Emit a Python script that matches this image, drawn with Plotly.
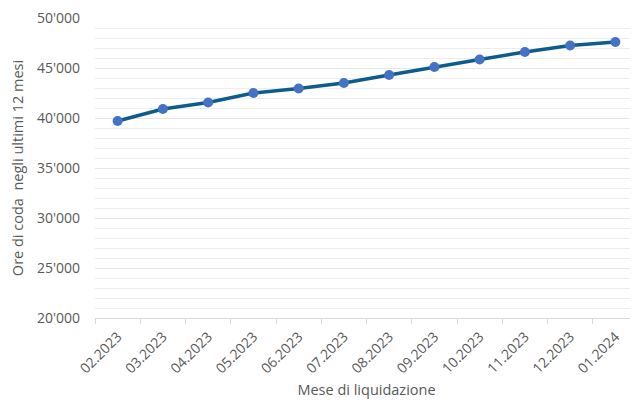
import plotly.graph_objects as go

months = ["02.2023", "03.2023", "04.2023", "05.2023", "06.2023", "07.2023",
          "08.2023", "09.2023", "10.2023", "11.2023", "12.2023", "01.2024"]
hours = [39700, 40900, 41550, 42500, 42950, 43500, 44300, 45100, 45850, 46600, 47250, 47600]

ytick_vals = [20000, 25000, 30000, 35000, 40000, 45000, 50000]
ytick_text = ["20'000", "25'000", "30'000", "35'000", "40'000", "45'000", "50'000"]

fig = go.Figure()
fig.add_trace(go.Scatter(
    x=months, y=hours, mode="lines+markers",
    line=dict(color="#0E5C8C", width=3.5),
    marker=dict(color="#4472C4", size=10),
    cliponaxis=False,
    showlegend=False,
))

font_family = "Open Sans, Liberation Sans, sans-serif"
# page body has an 8px default margin; the figure is sized to fill the rest of the window
fig.update_layout(
    width=630, height=399,
    margin=dict(l=87, r=0, t=10, b=89),
    paper_bgcolor="white", plot_bgcolor="white",
    font=dict(family=font_family, color="#595959", size=13),
    xaxis=dict(
        type="category",
        automargin=False,
        tickangle=-45,
        tickson="boundaries",
        ticks="outside", ticklen=5, tickcolor="#D9D9D9",
        ticklabelstandoff=4,
        showline=True, linecolor="#D9D9D9", linewidth=1,
        showgrid=False,
        tickfont=dict(size=14, color="#595959"),
        title=dict(text="Mese di liquidazione", font=dict(size=14.5, color="#595959"), standoff=8),
        range=[-0.5, 11.5],
    ),
    yaxis=dict(
        automargin=False,
        range=[20000, 50000],
        tickvals=ytick_vals, ticktext=ytick_text,
        ticklabeloverflow="allow",
        showgrid=True, gridcolor="#E6E6E6", gridwidth=1,
        minor=dict(dtick=1000, showgrid=True, gridcolor="#EDEDED", gridwidth=1),
        zeroline=False, showline=False,
        tickfont=dict(size=14, color="#595959"),
        ticklen=0, ticks="",
        ticklabelstandoff=14,
        title=dict(text="Ore di coda  negli ultimi 12 mesi", font=dict(size=14.5, color="#595959"), standoff=10),
    ),
)

fig.write_html("out.html")
